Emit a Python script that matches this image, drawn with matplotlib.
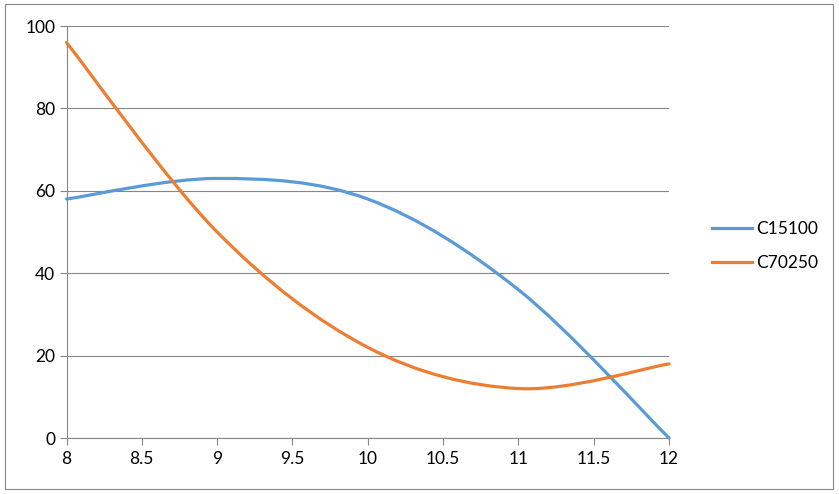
import matplotlib
matplotlib.use('Agg')
import matplotlib.pyplot as plt
from matplotlib.path import Path
from matplotlib.patches import PathPatch, Rectangle
from matplotlib.lines import Line2D
import numpy as np

plt.rcParams['font.family'] = ['Lato', 'DejaVu Sans']

x_vals = [8, 9, 10, 11, 12]
c15100 = [58, 63, 58, 36, 0]
c70250 = [96, 50, 22, 12, 18]
series_names = ['C15100', 'C70250']
x_ticks = [8, 8.5, 9, 9.5, 10, 10.5, 11, 11.5, 12]
y_ticks = [0, 20, 40, 60, 80, 100]

BLUE = '#5B9BD5'
ORANGE = '#ED7D31'
GRID = '#868686'
TEXT = '#000000'


def smooth_path(xs, ys):
    # Excel style smoothed line: cubic Bezier segments, control points from neighbours
    pts = np.column_stack([xs, ys]).astype(float)
    n = len(pts)
    verts = [pts[0]]
    codes = [Path.MOVETO]
    for i in range(n - 1):
        p_prev = pts[i - 1] if i > 0 else pts[i]
        p_next2 = pts[i + 2] if i + 2 < n else pts[i + 1]
        c1 = pts[i] + (pts[i + 1] - p_prev) / 6.0
        c2 = pts[i + 1] - (p_next2 - pts[i]) / 6.0
        verts += [c1, c2, pts[i + 1]]
        codes += [Path.CURVE4] * 3
    return Path(verts, codes)


fig = plt.figure(figsize=(8.39, 4.94), dpi=100, facecolor='white')
ax = fig.add_axes([66.5 / 839, 56 / 494, (669 - 66.5) / 839, (438 - 26) / 494])
ax.set_xlim(8, 12)
ax.set_ylim(0, 100)

for ys, color in [(c15100, BLUE), (c70250, ORANGE)]:
    patch = PathPatch(smooth_path(x_vals, ys), facecolor='none', edgecolor=color,
                      linewidth=2.3, capstyle='round', joinstyle='round', clip_on=False, zorder=3)
    ax.add_patch(patch)

ax.set_xticks(x_ticks)
ax.set_xticklabels([('%g' % v) for v in x_ticks])
ax.set_yticks(y_ticks)
ax.grid(axis='y', color=GRID, linewidth=0.8)
ax.set_axisbelow(True)
for side in ['top', 'right']:
    ax.spines[side].set_visible(False)
for side in ['left', 'bottom']:
    ax.spines[side].set_color(GRID)
    ax.spines[side].set_linewidth(0.8)
ax.tick_params(axis='both', colors=GRID, labelcolor=TEXT, labelsize=12.5, width=0.8, length=5)
ax.tick_params(axis='x', pad=4)
ax.tick_params(axis='y', pad=3)

handles = [Line2D([], [], color=BLUE, linewidth=2.3),
           Line2D([], [], color=ORANGE, linewidth=2.3)]
fig.legend(handles, series_names, loc='center left', bbox_to_anchor=(696 / 839, 1 - 246 / 494),
           frameon=False, fontsize=12.5, handlelength=2.3, handletextpad=0.25, labelspacing=1.05)

fig.patches.append(Rectangle((5 / 839, 5 / 494), 828 / 839, 485 / 494, transform=fig.transFigure,
                             facecolor='none', edgecolor=GRID, linewidth=0.8))

plt.savefig('out.png', dpi=100, facecolor='white')
plt.close()
